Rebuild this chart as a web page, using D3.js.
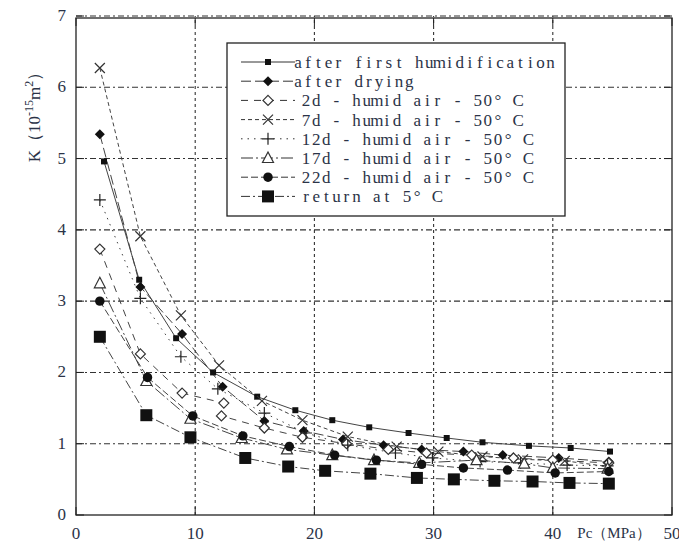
<!DOCTYPE html>
<html>
<head>
<meta charset="utf-8">
<script src="https://cdn.jsdelivr.net/npm/d3@7"></script>
<style>
  body { margin: 0; background: #fff; }
  svg { display: block; }
</style>
</head>
<body>
<svg id="chart" width="679" height="547"></svg>
<script>
// ---- data ----
const xTicks = [0, 10, 20, 30, 40, 50];
const yTicks = [0, 1, 2, 3, 4, 5, 6, 7];

const seriesNames = [
  'after first humidification',
  'after drying',
  '2d - humid air - 50° C',
  '7d - humid air - 50° C',
  '12d - humid air - 50° C',
  '17d - humid air - 50° C',
  '22d - humid air - 50° C',
  'return at 5° C'
];

const firstHumX = [2.35, 5.3, 8.4, 11.5, 15.2, 18.4, 21.5, 24.6, 27.9, 31.1, 34.1, 38.0, 41.5, 44.8];
const firstHumY = [4.96, 3.3, 2.48, 2.0, 1.66, 1.47, 1.33, 1.23, 1.15, 1.08, 1.02, 0.97, 0.94, 0.89];

const dryingX = [2.0, 5.4, 8.9, 12.3, 15.8, 19.1, 22.4, 25.8, 29.0, 32.5, 35.8, 40.5, 44.7];
const dryingY = [5.34, 3.2, 2.54, 1.8, 1.32, 1.18, 1.06, 0.98, 0.92, 0.89, 0.84, 0.80, 0.75];

const d2X = [2.0, 5.4, 8.9, 12.4, 12.2, 15.8, 19.0, 22.7, 26.2, 29.4, 33.2, 36.7, 40.0, 44.7];
const d2Y = [3.73, 2.26, 1.71, 1.57, 1.39, 1.22, 1.09, 1.0, 0.92, 0.87, 0.84, 0.80, 0.77, 0.73];

const d7X = [2.0, 5.4, 8.8, 12.0, 15.6, 19.0, 22.8, 26.9, 30.4, 34.1, 37.5, 41.0, 44.6];
const d7Y = [6.27, 3.91, 2.8, 2.1, 1.6, 1.33, 1.1, 0.96, 0.89, 0.82, 0.78, 0.76, 0.68];

const d12X = [2.0, 5.4, 8.8, 11.9, 15.8, 19.3, 22.8, 26.8, 29.9, 33.9, 37.3, 41.2, 44.6];
const d12Y = [4.42, 3.04, 2.22, 1.77, 1.43, 1.15, 0.98, 0.87, 0.80, 0.75, 0.73, 0.70, 0.69];

const d17X = [2.0, 5.9, 9.6, 13.9, 17.7, 21.5, 25.0, 28.8, 33.6, 37.6, 40.0, 44.6];
const d17Y = [3.25, 1.88, 1.35, 1.08, 0.92, 0.84, 0.77, 0.73, 0.77, 0.72, 0.66, 0.65];

const d22X = [2.0, 6.0, 9.8, 14.0, 17.9, 21.7, 25.2, 29.0, 32.5, 36.2, 40.2, 44.7];
const d22Y = [3.0, 1.93, 1.39, 1.11, 0.96, 0.84, 0.77, 0.71, 0.66, 0.63, 0.59, 0.61];

const returnX = [2.0, 5.9, 9.6, 14.2, 17.8, 20.9, 24.7, 28.6, 31.7, 35.1, 38.3, 41.4, 44.7];
const returnY = [2.5, 1.4, 1.09, 0.80, 0.68, 0.62, 0.58, 0.52, 0.50, 0.48, 0.47, 0.45, 0.44];

const seriesX = [firstHumX, dryingX, d2X, d7X, d12X, d17X, d22X, returnX];
const seriesY = [firstHumY, dryingY, d2Y, d7Y, d12Y, d17Y, d22Y, returnY];

// ---- styles ----
const markerTypes = ['smallSquare', 'diamondFilled', 'diamondOpen', 'times', 'plus', 'triangleOpen', 'circleFilled', 'bigSquare'];
const dashes = ['none', '10,4', '7,6', '4,3', '1.5,5', '12,3,2,3', '7,3', '9,3,2,3'];

const W = 679, H = 547;
const margin = { left: 76, right: 7, top: 16, bottom: 32 };

const svg = d3.select('#chart');

const x = d3.scaleLinear().domain([0, 50]).range([margin.left, W - margin.right]);
const y = d3.scaleLinear().domain([0, 7]).range([H - margin.bottom, margin.top]);

const serif = '"Liberation Serif", "DejaVu Serif", serif';
const textColor = '#2b3347';

// grid
const grid = svg.append('g').attr('class', 'grid');
grid.selectAll('line.h')
  .data(yTicks.slice(1))
  .enter().append('line')
  .attr('x1', x(0)).attr('x2', x(50))
  .attr('y1', d => y(d)).attr('y2', d => y(d))
  .attr('stroke', '#333').attr('stroke-width', 1.1)
  .attr('stroke-dasharray', '6,3,2,3');

grid.selectAll('line.v')
  .data(xTicks.slice(1, -1))
  .enter().append('line')
  .attr('x1', d => x(d)).attr('x2', d => x(d))
  .attr('y1', y(0)).attr('y2', y(7))
  .attr('stroke', '#333').attr('stroke-width', 1.1)
  .attr('stroke-dasharray', '3,3');

// frame
svg.append('rect')
  .attr('x', x(0)).attr('y', y(7) + 2)
  .attr('width', x(50) - x(0)).attr('height', y(0) - y(7) - 2)
  .attr('fill', 'none').attr('stroke', '#222').attr('stroke-width', 1.3);

// inner ticks
const ticks = svg.append('g');
yTicks.forEach(t => {
  ticks.append('line').attr('x1', x(0)).attr('x2', x(0) + 8).attr('y1', y(t)).attr('y2', y(t)).attr('stroke', '#222');
  ticks.append('line').attr('x1', x(50)).attr('x2', x(50) - 8).attr('y1', y(t)).attr('y2', y(t)).attr('stroke', '#222');
});
xTicks.forEach(t => {
  ticks.append('line').attr('x1', x(t)).attr('x2', x(t)).attr('y1', y(0)).attr('y2', y(0) - 8).attr('stroke', '#222');
  ticks.append('line').attr('x1', x(t)).attr('x2', x(t)).attr('y1', y(7) + 2).attr('y2', y(7) + 10).attr('stroke', '#222');
});

// tick labels
svg.append('g').selectAll('text')
  .data(yTicks)
  .enter().append('text')
  .attr('x', x(0) - 10).attr('y', d => y(d) + 5)
  .attr('text-anchor', 'end')
  .attr('font-family', serif).attr('font-size', '17px').attr('fill', textColor)
  .text(d => d);

svg.append('g').selectAll('text')
  .data(xTicks)
  .enter().append('text')
  .attr('x', d => x(d)).attr('y', H - 8)
  .attr('text-anchor', 'middle')
  .attr('font-family', serif).attr('font-size', '17px').attr('fill', textColor)
  .text(d => d);

// axis titles
svg.append('text')
  .attr('x', 614).attr('y', 538)
  .attr('text-anchor', 'middle')
  .attr('font-family', serif).attr('font-size', '15px').attr('fill', textColor)
  .text('Pc（MPa）');

const yTitle = svg.append('text')
  .attr('transform', 'translate(40,113) rotate(-90)')
  .attr('text-anchor', 'middle')
  .attr('font-family', serif).attr('font-size', '17px').attr('fill', textColor);
yTitle.append('tspan').text('K（10');
yTitle.append('tspan').attr('dy', -7).attr('font-size', '12px').text('-15');
yTitle.append('tspan').attr('dy', 7).text('m');
yTitle.append('tspan').attr('dy', -7).attr('font-size', '12px').text('2');
yTitle.append('tspan').attr('dy', 7).text('）');

// marker drawing
function drawMarker(g, type, cx, cy) {
  const s = g.append('path').attr('transform', `translate(${cx},${cy})`);
  switch (type) {
    case 'smallSquare':
      s.attr('d', 'M-3,-3H3V3H-3Z').attr('fill', '#111'); break;
    case 'diamondFilled':
      s.attr('d', 'M0,-5L5,0L0,5L-5,0Z').attr('fill', '#111'); break;
    case 'diamondOpen':
      s.attr('d', 'M0,-5L5,0L0,5L-5,0Z').attr('fill', '#fff').attr('stroke', '#333').attr('stroke-width', 1.2); break;
    case 'times':
      s.attr('d', 'M-5,-5L5,5M5,-5L-5,5').attr('fill', 'none').attr('stroke', '#333').attr('stroke-width', 1.2); break;
    case 'plus':
      s.attr('d', 'M-6,0H6M0,-6V6').attr('fill', 'none').attr('stroke', '#222').attr('stroke-width', 1.2); break;
    case 'triangleOpen':
      s.attr('d', 'M0,-6L5.5,4.5H-5.5Z').attr('fill', '#fff').attr('stroke', '#333').attr('stroke-width', 1.2); break;
    case 'circleFilled':
      s.attr('d', d3.symbol(d3.symbolCircle, 70)()).attr('fill', '#111'); break;
    case 'bigSquare':
      s.attr('d', 'M-6,-6H6V6H-6Z').attr('fill', '#111'); break;
  }
}

// series
const line = d3.line().x(d => x(d[0])).y(d => y(d[1]));
const plot = svg.append('g').attr('class', 'series');

seriesNames.forEach((name, i) => {
  const pts = seriesX[i].map((v, j) => [v, seriesY[i][j]]);
  plot.append('path')
    .datum(pts)
    .attr('d', line)
    .attr('fill', 'none')
    .attr('stroke', '#444')
    .attr('stroke-width', 1)
    .attr('stroke-dasharray', dashes[i]);
});
seriesNames.forEach((name, i) => {
  const g = plot.append('g');
  seriesX[i].forEach((v, j) => drawMarker(g, markerTypes[i], x(v), y(seriesY[i][j])));
});

// legend
const legend = svg.append('g').attr('class', 'legend');
legend.append('rect')
  .attr('x', 227).attr('y', 43).attr('width', 338).attr('height', 173)
  .attr('fill', '#fff').attr('stroke', '#222').attr('stroke-width', 1.3);

// fixed-pitch serif text: each glyph centred in its own cell
const charW = 10.1;
seriesNames.forEach((name, i) => {
  const ly = 63 + i * 19.2;
  const x0 = i < 2 ? 293 : 301;
  legend.append('line')
    .attr('x1', 241).attr('x2', 295).attr('y1', ly - 1).attr('y2', ly - 1)
    .attr('stroke', '#333').attr('stroke-width', 1)
    .attr('stroke-dasharray', dashes[i]);
  drawMarker(legend, markerTypes[i], 268, ly - 1);
  const chars = Array.from(name);
  legend.append('text')
    .attr('x', chars.map((c, k) => (x0 + k * charW + charW / 2).toFixed(1)).join(' '))
    .attr('y', ly + 5)
    .attr('text-anchor', 'middle')
    .attr('font-family', serif).attr('font-size', '17px').attr('fill', textColor)
    .attr('xml:space', 'preserve')
    .text(name);
});
</script>
</body>
</html>
